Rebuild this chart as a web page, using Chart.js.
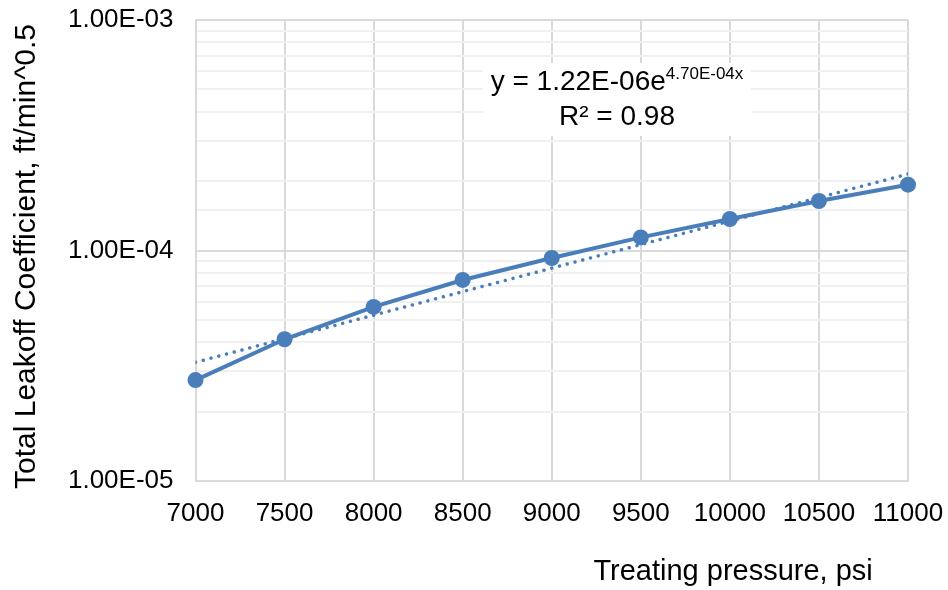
<!DOCTYPE html>
<html>
<head>
<meta charset="utf-8">
<script src="https://cdn.jsdelivr.net/npm/chart.js@4.4.0/dist/chart.umd.min.js"></script>
<style>
  body { margin: 0; background: #fff; }
  #wrap { width: 948px; height: 590px; }
</style>
</head>
<body>
<div id="wrap"><canvas id="leakoffChart" width="948" height="590"></canvas></div>
<script>
// treating pressure (psi) and measured total leakoff coefficient (ft/min^0.5)
const pressure = [7000, 7500, 8000, 8500, 9000, 9500, 10000, 10500, 11000];
const leakoff = [2.74e-5, 4.12e-5, 5.69e-5, 7.45e-5, 9.28e-5, 1.14e-4, 1.37e-4, 1.64e-4, 1.93e-4];

// exponential fit y = a * e^(b x)
const fitA = 1.22e-6;
const fitB = 4.70e-4;
const fitR2 = 0.98;

const yMin = 1e-5;
const yMax = 1e-3;
const xMin = 7000;
const xMax = 11000;
const xStep = 500;

const FONT = "'Liberation Sans', Arial, sans-serif";
const BLUE = "#4a7ebb";

function sciLabel(v) {
    // 1.00E-05 style
    let s = v.toExponential(2).toUpperCase();
    let parts = s.split("E");
    let exp = parseInt(parts[1], 10);
    let sign = exp < 0 ? "-" : "+";
    let digits = String(Math.abs(exp)).padStart(2, "0");
    return parts[0] + "E" + sign + digits;
}

function isDecade(v) {
    let l = Math.log10(v);
    return Math.abs(l - Math.round(l)) < 1e-6;
}

const points = pressure.map((p, i) => ({ x: p, y: leakoff[i] }));
// straight on a log axis, so the two ends are enough
const fitPoints = [pressure[0], pressure[pressure.length - 1]].map(p => ({ x: p, y: fitA * Math.exp(fitB * p) }));

// axis titles and the fit equation box
const extras = {
    id: "extras",
    afterDraw(chart) {
        const ctx = chart.ctx;
        const area = chart.chartArea;
        ctx.save();
        ctx.fillStyle = "#000";

        // y title
        ctx.save();
        ctx.translate(27, (area.top + area.bottom) / 2 + 6);
        ctx.rotate(-Math.PI / 2);
        ctx.font = "30px " + FONT;
        ctx.textAlign = "center";
        ctx.textBaseline = "middle";
        ctx.fillText("Total Leakoff Coefficient, ft/min^0.5", 0, 0);
        ctx.restore();

        // x title
        ctx.font = "29px " + FONT;
        ctx.textAlign = "center";
        ctx.textBaseline = "alphabetic";
        ctx.fillText("Treating pressure, psi", area.left + area.width * 0.7545, area.bottom + 99);

        // equation label
        const cx = area.left + area.width * 0.5916;
        const top = area.top + 43;
        ctx.fillStyle = "#fff";
        ctx.fillRect(cx - 134, top, 268, 73);

        const main = "y = " + sciLabel(fitA) + "e";
        const sup = sciLabel(fitB) + "x";
        ctx.font = "28px " + FONT;
        const wMain = ctx.measureText(main).width;
        ctx.font = "17px " + FONT;
        const wSup = ctx.measureText(sup).width;
        const x0 = cx - (wMain + wSup) / 2;
        ctx.fillStyle = "#000";
        ctx.textAlign = "left";
        ctx.font = "28px " + FONT;
        ctx.fillText(main, x0, top + 27);
        ctx.font = "17px " + FONT;
        ctx.fillText(sup, x0 + wMain, top + 16);

        ctx.font = "28px " + FONT;
        ctx.textAlign = "center";
        ctx.fillText("R\u00b2 = " + fitR2.toFixed(2), cx, top + 62);
        ctx.restore();
    }
};

new Chart(document.getElementById("leakoffChart"), {
    type: "scatter",
    data: {
        datasets: [
            {
                label: "Leakoff",
                data: points,
                showLine: true,
                clip: false,
                borderColor: BLUE,
                backgroundColor: BLUE,
                borderWidth: 4,
                pointRadius: 8,
                pointBackgroundColor: BLUE,
                pointBorderWidth: 0,
                order: 1
            },
            {
                label: "Expon. fit",
                data: fitPoints,
                showLine: true,
                borderColor: BLUE,
                borderWidth: 3.5,
                borderDash: [0.01, 8],
                borderCapStyle: "round",
                pointRadius: 0,
                order: 2
            }
        ]
    },
    options: {
        responsive: false,
        animation: false,
        layout: { padding: { left: 0, right: 40, top: 20, bottom: 0 } },
        plugins: {
            legend: { display: false },
            tooltip: { enabled: false }
        },
        scales: {
            x: {
                type: "linear",
                min: xMin,
                max: xMax,
                afterFit(scale) {
                    scale.height = 109;
                    scale.paddingLeft = 0;
                    scale.paddingRight = 0;
                },
                ticks: {
                    stepSize: xStep,
                    color: "#000",
                    padding: 17,
                    maxRotation: 0,
                    autoSkip: false,
                    font: { family: FONT, size: 26 },
                    callback: v => String(v)
                },
                grid: { color: "#d9d9d9", lineWidth: 2, drawTicks: false },
                border: { color: "#d9d9d9", width: 2 }
            },
            y: {
                type: "logarithmic",
                min: yMin,
                max: yMax,
                afterFit(scale) {
                    scale.width = 195.5;
                    scale.paddingTop = 0;
                    scale.paddingBottom = 0;
                },
                ticks: {
                    color: "#000",
                    padding: 22,
                    autoSkip: false,
                    font: { family: FONT, size: 26 },
                    callback: v => isDecade(v) ? sciLabel(v) : ""
                },
                grid: {
                    drawTicks: false,
                    lineWidth: 2,
                    color: c => (c.tick && isDecade(c.tick.value)) ? "#d9d9d9" : "#f0f0f0"
                },
                border: { color: "#d9d9d9", width: 2 }
            }
        }
    },
    plugins: [extras]
});
</script>
</body>
</html>
